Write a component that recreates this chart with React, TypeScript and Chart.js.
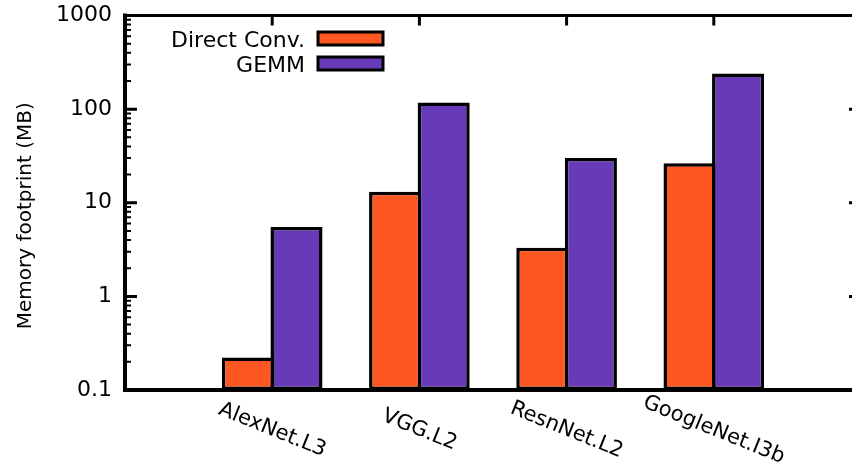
import React, { useEffect, useRef } from 'react';
import { Chart, registerables } from 'chart.js';

Chart.register(...registerables);

const categories = ['AlexNet.L3', 'VGG.L2', 'ResnNet.L2', 'GoogleNet.I3b'];
const directConv = [0.223, 13.1, 3.3, 26.4];
const gemm = [5.5, 118, 30, 240];
const seriesNames = ['Direct Conv.', 'GEMM'];
const seriesColors = ['#FF5722', '#673AB7'];
const yTickValues = [0.1, 1, 10, 100, 1000];
const yTickLabels = ['0.1', '1', '10', '100', '1000'];
const yTitle = 'Memory footprint (MB)';

const FONT = "'DejaVu Sans', sans-serif";

const framePlugin = {
  id: 'gnuplotFrame',
  beforeDatasetsDraw(chart: any) {
    const { ctx, chartArea: a, scales } = chart;
    const y = scales.y;
    const x = scales.x;
    ctx.save();
    ctx.strokeStyle = '#000';
    for (let d = 0; d < yTickValues.length; d++) {
      const v = yTickValues[d];
      const py = y.getPixelForValue(v);
      ctx.lineWidth = 3;
      ctx.beginPath();
      ctx.moveTo(a.left, py);
      ctx.lineTo(a.left + 12, py);
      ctx.moveTo(a.right, py);
      ctx.lineTo(a.right - 12, py);
      ctx.stroke();
      if (d < yTickValues.length - 1) {
        for (let m = 2; m <= 9; m++) {
          const pm = y.getPixelForValue(v * m);
          ctx.lineWidth = 2;
          ctx.beginPath();
          ctx.moveTo(a.left, pm);
          ctx.lineTo(a.left + 6, pm);
          ctx.moveTo(a.right, pm);
          ctx.lineTo(a.right - 6, pm);
          ctx.stroke();
        }
      }
    }
    ctx.lineWidth = 3;
    for (let i = 0; i < categories.length; i++) {
      const px = x.getPixelForValue(i + 1);
      ctx.beginPath();
      ctx.moveTo(px, a.top);
      ctx.lineTo(px, a.top + 10);
      ctx.moveTo(px, a.bottom);
      ctx.lineTo(px, a.bottom - 10);
      ctx.stroke();
    }
    ctx.restore();
  },
  afterDatasetsDraw(chart: any) {
    const { ctx, chartArea: a, scales } = chart;
    const x = scales.x;
    ctx.save();
    ctx.strokeStyle = '#000';
    ctx.lineCap = 'square';
    ctx.lineWidth = 3;
    ctx.beginPath();
    ctx.moveTo(a.left, a.top);
    ctx.lineTo(a.right, a.top);
    ctx.lineTo(a.right, a.bottom);
    ctx.stroke();
    ctx.lineWidth = 4;
    ctx.beginPath();
    ctx.moveTo(a.left, a.top);
    ctx.lineTo(a.left, a.bottom);
    ctx.lineTo(a.right, a.bottom);
    ctx.stroke();

    // x labels, rotated clockwise
    ctx.fillStyle = '#000';
    ctx.font = `21px ${FONT}`;
    ctx.textAlign = 'center';
    ctx.textBaseline = 'middle';
    for (let i = 0; i < categories.length; i++) {
      const px = x.getPixelForValue(i + 1);
      ctx.save();
      ctx.translate(px, a.bottom + 40);
      ctx.rotate((22 * Math.PI) / 180);
      ctx.fillText(categories[i], 0, 0);
      ctx.restore();
    }

    // y title
    ctx.save();
    ctx.font = `20px ${FONT}`;
    ctx.textAlign = 'center';
    ctx.textBaseline = 'alphabetic';
    ctx.translate(31, (a.top + a.bottom) / 2 + 13);
    ctx.rotate(-Math.PI / 2);
    ctx.fillText(yTitle, 0, 0);
    ctx.restore();

    // legend
    ctx.font = `22px ${FONT}`;
    ctx.textAlign = 'right';
    ctx.textBaseline = 'alphabetic';
    for (let i = 0; i < seriesNames.length; i++) {
      const cy = a.top + 23 + i * 25;
      ctx.fillStyle = '#000';
      ctx.fillText(seriesNames[i], a.left + 180, cy + 8);
      ctx.fillStyle = seriesColors[i];
      ctx.fillRect(a.left + 193, cy - 6.5, 65, 13);
      ctx.lineWidth = 3;
      ctx.strokeStyle = '#000';
      ctx.strokeRect(a.left + 193, cy - 6.5, 65, 13);
    }
    ctx.restore();
  },
};

export default function App() {
  const ref = useRef<HTMLCanvasElement | null>(null);

  useEffect(() => {
    if (!ref.current) return;
    const labels = ['', ...categories, ''];
    const chart = new Chart(ref.current, {
      type: 'bar',
      data: {
        labels,
        datasets: [
          {
            label: seriesNames[0],
            data: [null, ...directConv, null],
            backgroundColor: seriesColors[0],
            borderColor: '#000',
            borderWidth: 3.5,
            borderSkipped: false,
            categoryPercentage: 0.66,
            barPercentage: 1.072,
          },
          {
            label: seriesNames[1],
            data: [null, ...gemm, null],
            backgroundColor: seriesColors[1],
            borderColor: '#000',
            borderWidth: 3.5,
            borderSkipped: false,
            categoryPercentage: 0.66,
            barPercentage: 1.072,
          },
        ] as any,
      },
      options: {
        responsive: false,
        animation: false,
        devicePixelRatio: 1,
        layout: { padding: { left: 0, right: 9, top: 15.5, bottom: 0 } },
        plugins: { legend: { display: false }, tooltip: { enabled: false } },
        scales: {
          x: {
            type: 'category',
            offset: false,
            grid: { display: false, drawTicks: false },
            border: { display: false },
            ticks: { display: false },
            afterFit: (s: any) => {
              s.height = 78;
              s.paddingLeft = 0;
              s.paddingRight = 0;
            },
          },
          y: {
            type: 'logarithmic',
            min: 0.1,
            max: 1000,
            grid: { display: false, drawTicks: false },
            border: { display: false },
            afterBuildTicks: (s: any) => {
              s.ticks = yTickValues.map((v) => ({ value: v }));
            },
            ticks: {
              autoSkip: false,
              padding: 13,
              color: '#000',
              font: { family: FONT, size: 22 },
              callback: (_v: any, i: number) => yTickLabels[i],
            },
            afterFit: (s: any) => {
              s.width = 125;
              s.paddingTop = 0;
              s.paddingBottom = 0;
            },
          },
        },
      } as any,
      plugins: [framePlugin],
    });
    return () => chart.destroy();
  }, []);

  return (
    <div
      style={{
        position: 'fixed',
        left: 0,
        top: 0,
        width: 852,
        height: 468,
        overflow: 'hidden',
        background: '#fff',
      }}
    >
      <canvas ref={ref} width={870} height={468} />
    </div>
  );
}
